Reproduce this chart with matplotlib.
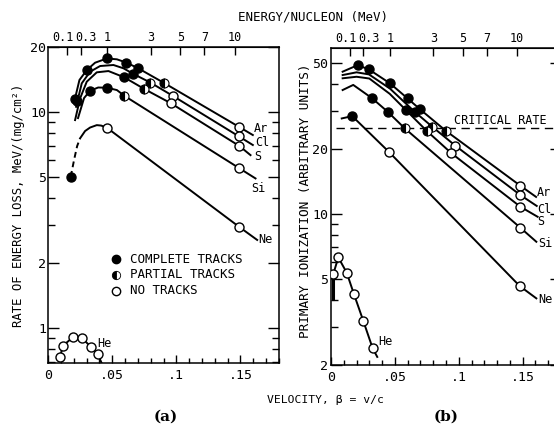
import numpy as np
import matplotlib
matplotlib.use("Agg")
import matplotlib.pyplot as plt
from matplotlib.ticker import FixedLocator, NullFormatter, NullLocator, MultipleLocator

plt.rcParams['font.family'] = ['DejaVu Sans Mono', 'DejaVu Sans']

# ---------- (a) rate of energy loss, MeV/(mg/cm2) vs beta ----------
a_ar_x = [0.0205, 0.0245, 0.0302, 0.0367, 0.0459, 0.0537, 0.0609, 0.0699, 0.0901, 0.1487, 0.1596]
a_ar_y = [11.2, 14.07, 15.64, 16.92, 17.70, 17.54, 16.95, 15.99, 13.67, 8.55, 7.83]
a_cl_x = [0.0219, 0.0263, 0.0328, 0.0406, 0.0510, 0.0588, 0.0666, 0.0797, 0.0971, 0.1487, 0.1596]
a_cl_y = [10.58, 13.58, 15.37, 16.33, 16.51, 15.94, 15.00, 13.70, 11.90, 7.72, 7.04]
a_s_x = [0.0211, 0.0250, 0.0302, 0.0380, 0.0471, 0.0594, 0.0750, 0.0959, 0.1492, 0.1578]
a_s_y = [9.18, 11.57, 13.82, 15.27, 15.48, 14.48, 12.79, 10.97, 6.96, 6.32]
a_si_x = [0.0234, 0.0281, 0.0328, 0.0391, 0.0459, 0.0537, 0.0594, 0.1492, 0.1617]
a_si_y = [9.38, 11.61, 12.55, 12.99, 12.96, 12.64, 11.90, 5.49, 4.93]
a_ne_dash_x = [0.0177, 0.0203, 0.0227, 0.0250]
a_ne_dash_y = [5.02, 6.00, 6.96, 7.56]
a_ne_x = [0.0250, 0.0289, 0.0328, 0.0380, 0.0414, 0.0459, 0.1487, 0.1630]
a_ne_y = [7.56, 8.17, 8.48, 8.70, 8.66, 8.46, 2.95, 2.56]
a_he_x = [0.0094, 0.0115, 0.0198, 0.0268, 0.0334, 0.0388, 0.0420]
a_he_y = [0.732, 0.828, 0.912, 0.896, 0.820, 0.758, 0.685]

# markers: complete / partial / no tracks
a_full_x = [0.0211, 0.0302, 0.0459, 0.0609, 0.0699, 0.0228, 0.0666, 0.0594, 0.0328, 0.0459, 0.0177]
a_full_y = [11.5, 15.64, 17.70, 16.95, 15.99, 11.2, 15.00, 14.48, 12.55, 12.96, 5.02]
a_part_x = [0.0901, 0.0797, 0.0750, 0.0594]
a_part_y = [13.67, 13.70, 12.79, 11.90]
a_open_x = [0.1487, 0.0971, 0.1487, 0.0959, 0.1492, 0.1492, 0.0459, 0.1487,
            0.0094, 0.0115, 0.0198, 0.0268, 0.0334, 0.0388]
a_open_y = [8.55, 11.90, 7.72, 10.97, 6.96, 5.49, 8.46, 2.95,
            0.732, 0.828, 0.912, 0.896, 0.820, 0.758]

# ---------- (b) primary ionization (arbitrary units) vs beta ----------
b_ar_x = [0.0091, 0.0209, 0.0297, 0.0461, 0.0599, 0.0695, 0.0898, 0.1482, 0.1605]
b_ar_y = [45.6, 48.9, 46.7, 40.3, 34.3, 30.6, 24.3, 13.52, 12.0]
b_cl_x = [0.0091, 0.0200, 0.0297, 0.0461, 0.0656, 0.0791, 0.0974, 0.1482, 0.1610]
b_cl_y = [44.0, 45.3, 44.3, 38.1, 29.7, 25.4, 20.7, 12.24, 10.9]
b_s_x = [0.0091, 0.0200, 0.0300, 0.0460, 0.0586, 0.0748, 0.0943, 0.1482, 0.1617]
b_s_y = [42.5, 43.2, 42.4, 36.0, 30.3, 24.3, 19.1, 10.81, 9.71]
b_si_x = [0.0091, 0.0174, 0.0323, 0.0445, 0.0578, 0.1482, 0.1607]
b_si_y = [37.5, 39.6, 34.3, 29.7, 24.9, 8.64, 7.44]
b_ne_x = [0.0084, 0.0166, 0.0453, 0.1477, 0.1607]
b_ne_y = [27.7, 28.4, 19.4, 4.64, 4.07]
b_he_x = [0.0018, 0.0057, 0.0123, 0.0180, 0.0252, 0.0326, 0.0362]
b_he_y = [5.27, 6.30, 5.35, 4.25, 3.21, 2.39, 2.18]
b_he_bar_y = [5.27, 4.03]
critical_rate = 25

b_full_x = [0.0209, 0.0297, 0.0461, 0.0599, 0.0695, 0.0656, 0.0586, 0.0323, 0.0445, 0.0166]
b_full_y = [48.9, 46.7, 40.3, 34.3, 30.6, 29.7, 30.3, 34.3, 29.7, 28.4]
b_part_x = [0.0898, 0.0791, 0.0748, 0.0578]
b_part_y = [24.3, 25.4, 24.3, 24.9]
b_open_x = [0.1482, 0.0974, 0.1482, 0.0943, 0.1482, 0.1482, 0.0453, 0.1477,
            0.0018, 0.0057, 0.0123, 0.0180, 0.0252, 0.0326]
b_open_y = [13.52, 20.7, 12.24, 19.1, 10.81, 8.64, 19.4, 4.64,
            5.27, 6.30, 5.35, 4.25, 3.21, 2.39]

energy_ticks = [0.1, 0.3, 1, 3, 5, 7, 10]
energy_labels = ['0.1', '0.3', '1', '3', '5', '7', '10']
energy_nudge = [-3, 4, 0, 0, 0, 0, 0]   # points, label spacing as in the original
beta_ticks = [0, 0.05, 0.1, 0.15]
beta_labels = ['0', '.05', '.1', '.15']


def b2e(b):
    b = np.clip(np.asarray(b, dtype=float), 0, 0.99)
    return 931.5 * (1 / np.sqrt(1 - b ** 2) - 1)


def e2b(e):
    e = np.clip(np.asarray(e, dtype=float), 0, None)
    g = 1 + e / 931.5
    return np.sqrt(1 - 1 / g ** 2)


W, H = 554, 429
fig = plt.figure(figsize=(W / 100, H / 100), dpi=100)
axa = fig.add_axes([48 / W, 1 - 363 / H, 231 / W, 316 / H])
axb = fig.add_axes([331 / W, 1 - 365 / H, 230 / W, 317 / H])

lw = 1.4
ms = 6.5
for ax in (axa, axb):
    ax.set_yscale('log')
    ax.set_xlim(0, 0.18)
    ax.set_xticks(beta_ticks, beta_labels)
    ax.xaxis.set_minor_locator(MultipleLocator(0.01))
    ax.yaxis.set_minor_formatter(NullFormatter())
    ax.tick_params(which='both', direction='in', top=False, right=True,
                   labelsize=9.5, width=1.0)
    ax.tick_params(axis='x', which='major', length=6, pad=4)
    ax.tick_params(axis='x', which='minor', length=3.5)
    ax.tick_params(axis='y', which='major', length=8, pad=1.5)
    ax.tick_params(axis='y', which='minor', length=5)
    for sp in ax.spines.values():
        sp.set_linewidth(1.1)
    sec = ax.secondary_xaxis('top', functions=(b2e, e2b))
    sec.set_xticks(energy_ticks, [''] * len(energy_ticks))
    sec.xaxis.set_minor_locator(NullLocator())
    sec.tick_params(direction='in', length=6, width=1.0, pad=2)
    for e, lab, dx in zip(energy_ticks, energy_labels, energy_nudge):
        ax.annotate(lab, xy=(float(e2b(e)), 1), xycoords=('data', 'axes fraction'),
                    xytext=(dx, 2.5), textcoords='offset points',
                    ha='center', va='bottom', fontsize=8.5)

# panel (a)
axa.set_ylim(0.69, 20)
axa.set_yticks([1, 2, 5, 10, 20], ['1', '2', '5', '10', '20'])
axa.yaxis.set_minor_locator(FixedLocator([0.7, 0.8, 0.9, 3, 4, 6, 7, 8, 9]))
for xs, ys in [(a_ar_x, a_ar_y), (a_cl_x, a_cl_y), (a_s_x, a_s_y), (a_si_x, a_si_y),
               (a_ne_x, a_ne_y), (a_he_x, a_he_y)]:
    axa.plot(xs, ys, color='black', lw=lw, zorder=2)
axa.plot(a_ne_dash_x, a_ne_dash_y, color='black', lw=lw, ls=(0, (3, 2)), zorder=2)
axa.plot(a_full_x, a_full_y, 'o', ms=ms, mfc='black', mec='black', zorder=3, clip_on=False)
axa.plot(a_part_x, a_part_y, 'o', ms=ms, fillstyle='left', mfc='black', mfcalt='white',
         mec='black', mew=0.8, zorder=3)
axa.plot(a_open_x, a_open_y, 'o', ms=ms, mfc='white', mec='black', mew=1.0, zorder=3,
         clip_on=False)
for name, x, y in [('Ar', 0.1607, 8.41), ('Cl', 0.1615, 7.2), ('S', 0.1607, 6.2),
                   ('Si', 0.1580, 4.43), ('Ne', 0.1635, 2.57), ('He', 0.0380, 0.849)]:
    axa.text(x, y, name, fontsize=8.5, ha='left', va='center')

# legend
for i, (txt, style) in enumerate([('COMPLETE TRACKS', 'full'), ('PARTIAL TRACKS', 'left'),
                                  ('NO TRACKS', 'none')]):
    yy = 0.328 - 0.0495 * i
    if style == 'full':
        axa.plot([0.294], [yy], 'o', ms=6, mfc='black', mec='black', transform=axa.transAxes)
    elif style == 'left':
        axa.plot([0.294], [yy], 'o', ms=6, fillstyle='left', mfc='black', mfcalt='white',
                 mec='black', mew=0.6, transform=axa.transAxes)
    else:
        axa.plot([0.294], [yy], 'o', ms=6, mfc='white', mec='black', mew=1.0,
                 transform=axa.transAxes)
    axa.text(0.355, yy, txt, fontsize=9, ha='left', va='center', transform=axa.transAxes)

# panel (b)
axb.set_ylim(2, 58.7)
axb.set_yticks([2, 5, 10, 20, 50], ['2', '5', '10', '20', '50'])
axb.yaxis.set_minor_locator(FixedLocator([3, 4, 6, 7, 8, 9, 30, 40]))
axb.tick_params(axis='y', which='major', pad=2)
for xs, ys in [(b_ar_x, b_ar_y), (b_cl_x, b_cl_y), (b_s_x, b_s_y), (b_si_x, b_si_y),
               (b_ne_x, b_ne_y), (b_he_x, b_he_y)]:
    axb.plot(xs, ys, color='black', lw=lw, zorder=2)
axb.plot([b_he_x[0], b_he_x[0]], b_he_bar_y, color='black', lw=2.2, zorder=2)
axb.plot([0.004, 0.18], [critical_rate, critical_rate], color='black', lw=1.0,
         ls=(0, (6, 4)), zorder=1)
axb.text(0.0965, critical_rate * 1.01, 'CRITICAL RATE', fontsize=8.5, ha='left', va='bottom')
axb.plot(b_full_x, b_full_y, 'o', ms=ms, mfc='black', mec='black', zorder=3)
axb.plot(b_part_x, b_part_y, 'o', ms=ms, fillstyle='left', mfc='black', mfcalt='white',
         mec='black', mew=0.8, zorder=3)
axb.plot(b_open_x, b_open_y, 'o', ms=ms, mfc='white', mec='black', mew=1.0, zorder=3)
for name, x, y in [('Ar', 0.1607, 12.57), ('Cl', 0.1618, 10.55), ('S', 0.1618, 9.21),
                   ('Si', 0.1622, 7.32), ('Ne', 0.1625, 4.0), ('He', 0.0370, 2.56)]:
    axb.text(x, y, name, fontsize=8.5, ha='left', va='center')

# axis titles
fig.text(313 / W, 1 - 17 / H, 'ENERGY/NUCLEON (MeV)', ha='center', va='center', fontsize=9)
fig.text(19 / W, 1 - 205 / H, 'RATE OF ENERGY LOSS, MeV/(mg/cm²)', rotation=90,
         ha='center', va='center', fontsize=8.8)
fig.text(306 / W, 1 - 201 / H, 'PRIMARY IONIZATION (ARBITRARY UNITS)', rotation=90,
         ha='center', va='center', fontsize=9.2)
fig.text(325 / W, 1 - 400 / H, 'VELOCITY, β = v/c', ha='center', va='center', fontsize=8.2)
fig.text(166 / W, 1 - 417 / H, '(a)', ha='center', va='center', fontsize=11,
         family='DejaVu Serif', weight='bold')
fig.text(446 / W, 1 - 417 / H, '(b)', ha='center', va='center', fontsize=11,
         family='DejaVu Serif', weight='bold')

fig.savefig('out.png', dpi=100)
